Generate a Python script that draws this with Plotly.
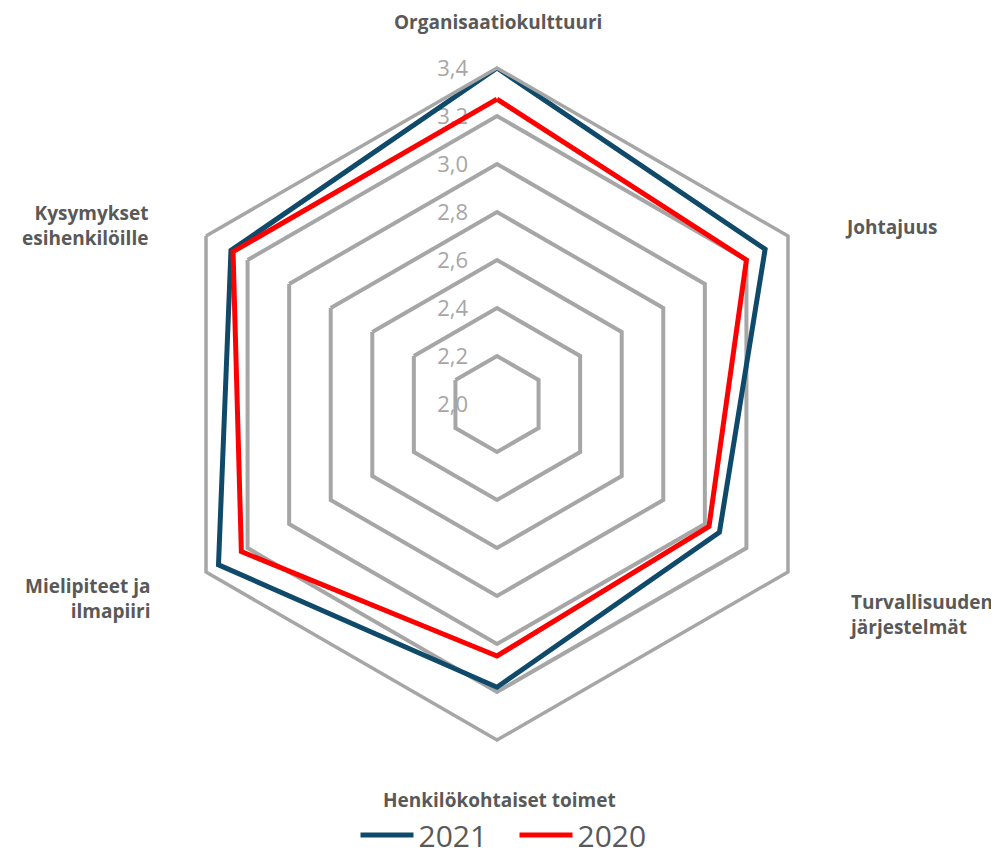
import plotly.graph_objects as go

categories = ["Organisaatiokulttuuri", "Johtajuus", "Turvallisuuden järjestelmät",
              "Henkilökohtaiset toimet", "Mielipiteet ja ilmapiiri", "Kysymykset esihenkilöille"]
values_2021 = [3.40, 3.29, 3.07, 3.18, 3.34, 3.28]
values_2020 = [3.27, 3.20, 3.02, 3.05, 3.23, 3.27]
radial_ticks = [2.0, 2.2, 2.4, 2.6, 2.8, 3.0, 3.2, 3.4]

W, H = 999, 856
cx, cy, R = 489, 396, 336

fig = go.Figure()
for name, vals, col in [("2021", values_2021, "#0f4a6a"), ("2020", values_2020, "#ff0000")]:
    fig.add_trace(go.Scatterpolar(
        r=vals + vals[:1], theta=categories + categories[:1], mode="lines", name=name,
        line=dict(color=col, width=5), hoverinfo="r+theta"))

# invisible helper trace so that a plain value axis shows the radial tick labels
fig.add_trace(go.Scatter(x=[None], y=[None], showlegend=False, hoverinfo="skip"))

grid = "#a6a6a6"
fig.update_layout(
    width=W, height=H, paper_bgcolor="white", plot_bgcolor="rgba(0,0,0,0)",
    margin=dict(l=0, r=0, t=0, b=0), separators=", ",
    font=dict(family="Open Sans", color="#595959"),
    polar=dict(
        domain=dict(x=[(cx - R) / W, (cx + R) / W], y=[(H - cy - R) / H, (H - cy + R) / H]),
        bgcolor="rgba(0,0,0,0)", gridshape="linear",
        radialaxis=dict(range=[2.0, 3.4], tickvals=radial_ticks, showticklabels=False,
                        angle=90, showline=False, ticks="", gridcolor=grid, gridwidth=3.5),
        angularaxis=dict(direction="clockwise", rotation=90, showgrid=False,
                         showline=True, linecolor=grid, linewidth=3.5,
                         showticklabels=False, ticks=""),
    ),
    xaxis=dict(visible=False, domain=[0.46, 0.47]),
    yaxis=dict(range=[2.0, 3.4], domain=[1 - cy / H, 1 - (cy - R) / H], anchor="free",
               position=460 / W, side="left", tickvals=radial_ticks, tickformat=".1f",
               showgrid=False, zeroline=False, showline=False, ticks="", automargin=False,
               tickfont=dict(size=22, color=grid, family="Open Sans")),
    legend=dict(orientation="h", x=0.5 + 7 / W, xanchor="center", y=3 / H, yanchor="bottom",
                font=dict(size=30, color="#595959", family="Open Sans"), itemwidth=53,
                entrywidth=91),
)

lab = dict(size=19, color="#595959", family="Open Sans")
def ann(text, x, y, xanchor, align):
    fig.add_annotation(text="<b>" + text + "</b>", x=x / W, y=1 - y / H, xref="paper", yref="paper",
                       xanchor=xanchor, yanchor="middle", align=align, showarrow=False, font=lab)

ann("Organisaatiokulttuuri", 490, 14, "center", "center")
ann("Johtajuus", 835, 219, "left", "left")
ann("Turvallisuuden<br>järjestelmät", 839, 606, "left", "left")
ann("Henkilökohtaiset toimet", 491, 792, "center", "center")
ann("Mielipiteet ja<br>ilmapiiri", 145, 590, "right", "right")
ann("Kysymykset<br>esihenkilöille", 142, 217, "right", "right")

fig.write_html("out.html")
